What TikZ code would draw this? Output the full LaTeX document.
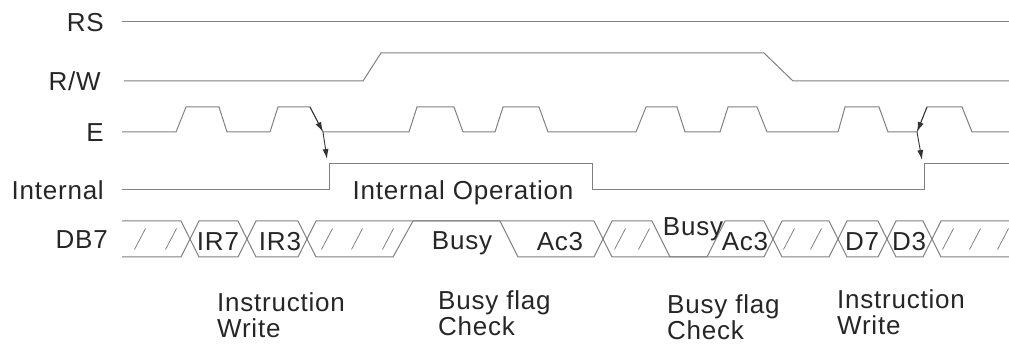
\documentclass[tikz,border=0pt]{standalone}
\usepackage{fontspec}
\setmainfont[LetterSpace=3]{Liberation Sans}
\usetikzlibrary{arrows.meta}
\tikzset{
  sig/.style={draw=black!50, line width=1pt},
  hatch/.style={draw=black!50, line width=0.8pt},
  arr/.style={draw=black!80, line width=0.9pt, -{Latex[length=10pt,width=6pt]}},
  txt/.style={font=\fontsize{26}{26}\selectfont, text=black!85, inner sep=0pt},
  lbl/.style={txt, anchor=east, text height=18.6pt, text depth=0pt},
  bus/.style={txt, anchor=base},
  note/.style={txt, anchor=north west, align=left},
}
\begin{document}
\begin{tikzpicture}[x=1pt,y=-1pt]
\useasboundingbox (0,0) rectangle (1009,347);

% signal names
\node[lbl] (rs) at (104,22) {RS};
\node[lbl] (rw) at (101,81) {R/W};
\node[lbl] (e) at (104,132) {E};
\node[lbl] (int) at (104,190) {Internal};
\node[lbl] (db) at (108,239) {DB7};

% RS and R/W
\draw[sig] (122,22) -- (1009,22);
\draw[sig] (124,81) -- (363,81) -- (381,53) -- (764,53) -- (793,81) -- (1009,81);

% E
\draw[sig] (122,132)
  \foreach \a/\b/\c/\d in {176/186/219/227,270/278/310/323,409/417/454/463,495/503/539/548,
                           636/646/677/685,720/728/757/767,838/845/879/888,917/927/962/972}
  { -- (\a,132) -- (\b,107) -- (\c,107) -- (\d,132) } -- (1009,132);

% Internal
\draw[sig] (122,190) -- (329,190) -- (329,164) -- (592,164) -- (592,190) -- (924,190) -- (924,164) -- (1009,164);
\node[lbl, anchor=center] (op) at (463,190) {Internal Operation};

% arrows E -> Internal
\coordinate (e2top) at (310,107);
\coordinate (e2low) at (323,132);
\coordinate (int1) at (327,159);
\coordinate (e8top) at (927,107);
\coordinate (e8low) at (917,132);
\coordinate (int2) at (922,160);
\draw[arr] (e2top) -- (e2low);
\draw[arr] (e2low) -- (int1);
\draw[arr] (e8top) -- (e8low);
\draw[arr] (e8low) -- (int2);

% DB7 bus
\draw[sig] (122,221) -- (181,221) -- (199,257) -- (238,257) -- (256,221) -- (298,221) -- (316,257) -- (393,257)
  -- (413,221) -- (594,221) -- (612,257) -- (707,257) -- (725,221) -- (764,221) -- (782,257) -- (829,257)
  -- (847,221) -- (878,221) -- (896,257) -- (923,257) -- (941,221) -- (1009,221);
\draw[sig] (122,257) -- (181,257) -- (199,221) -- (238,221) -- (256,257) -- (298,257) -- (316,221) -- (500,221)
  -- (518,257) -- (594,257) -- (612,221) -- (652,221) -- (670,257) -- (764,257) -- (782,221) -- (829,221)
  -- (847,257) -- (878,257) -- (896,221) -- (923,221) -- (941,257) -- (1009,257);

% hatching
\foreach \x in {140,171,327,357,388,620,644,789,816,948,975,1003}
  \draw[hatch] (\x-5.5,249.5) -- (\x+5.5,228.5);

% bus values
\node[bus] (ir7) at (218,251) {IR7};
\node[bus] (ir3) at (280,251) {IR3};
\node[bus] (busy1) at (462,250) {Busy};
\node[bus] (ac1) at (560,251) {Ac3};
\node[bus] (busy2) at (693,236) {Busy};
\node[bus] (ac2) at (745,251) {Ac3};
\node[bus] (d7) at (862,251) {D7};
\node[bus] (d3) at (909,251) {D3};

% cycle notes
\node[note] (iw1) at (217,292) {Instruction\\Write};
\node[note] (bf1) at (438,290) {Busy flag\\Check};
\node[note] (bf2) at (667,294) {Busy flag\\Check};
\node[note] (iw2) at (837,289) {Instruction\\Write};
\end{tikzpicture}
\end{document}
